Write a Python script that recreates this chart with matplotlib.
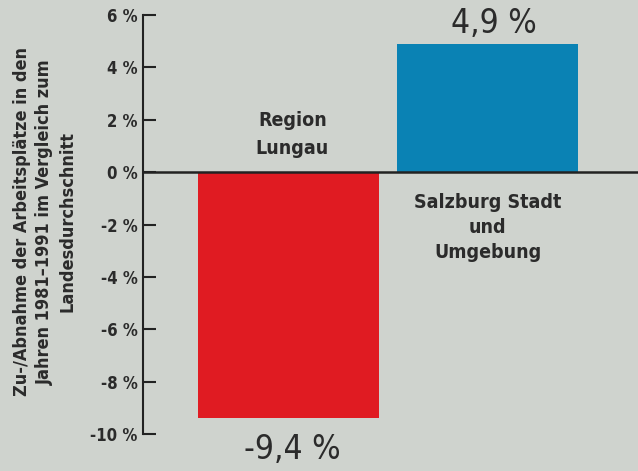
import matplotlib
matplotlib.use("Agg")
from matplotlib import pyplot as plt

# Daten
regionen = ["Region\nLungau", "Salzburg Stadt\nund\nUmgebung"]
werte = [-9.4, 4.9]
wert_texte = ["-9,4 %", "4,9 %"]
farben = ["#e01b22", "#0a82b4"]
yticks = [-10, -8, -6, -4, -2, 0, 2, 4, 6]
ytick_texte = ["-10 %", "-8 %", "-6 %", "-4 %", "-2 %", "0 %", "2 %", "4 %", "6 %"]
ylabel = "Zu-/Abnahme der Arbeitsplätze in den\nJahren 1981–1991 im Vergleich zum\nLandesdurchschnitt"

# schmale Schrift (DejaVu Sans Condensed)
plt.rcParams['font.family'] = ['DejaVu Sans']
plt.rcParams['font.stretch'] = 'condensed'
bg = "#cfd3ce"
txt = "#2b2b2b"

fig = plt.figure(figsize=(6.38, 4.71), dpi=100, facecolor=bg)
ax = fig.add_axes([143 / 638, 1 - 434 / 471, 1 - 143 / 638, (434 - 15) / 471])
ax.set_facecolor(bg)

x = list(range(len(werte)))
ax.bar(x, werte, width=0.91, color=farben, zorder=2)
ax.axhline(0, color="#222222", lw=1.8, zorder=3)

ax.set_ylim(-10, 6)
ax.set_xlim(-0.731, 1.756)
ax.set_yticks(yticks)
ax.set_yticklabels(ytick_texte, fontsize=12, fontweight="bold", color=txt)
ax.tick_params(axis="y", direction="in", length=9, width=1.5, pad=4, color="#222222")
ax.set_xticks([])
for s in ["top", "right", "bottom"]:
    ax.spines[s].set_visible(False)
ax.spines["left"].set_linewidth(1.5)
ax.spines["left"].set_color("#222222")

# Werte
ax.text(x[1] + 0.03, werte[1] + 0.15, wert_texte[1], ha="center", va="bottom", fontsize=24, color=txt)
ax.text(x[0] + 0.02, werte[0] - 0.55, wert_texte[0], ha="center", va="top", fontsize=24, color=txt)

# Regionsnamen
ax.text(x[0] + 0.02, 0.55, regionen[0], ha="center", va="bottom", fontsize=14, fontweight="bold",
        color=txt, linespacing=1.6)
ax.text(x[1], -0.8, regionen[1], ha="center", va="top", fontsize=14, fontweight="bold",
        color=txt, linespacing=1.4)

fig.text(45 / 638, 1 - 222 / 471, ylabel, rotation=90, ha="center", va="center",
         fontsize=13, fontweight="bold", color=txt, linespacing=1.35)

fig.savefig("out.png", dpi=100, facecolor=bg)
